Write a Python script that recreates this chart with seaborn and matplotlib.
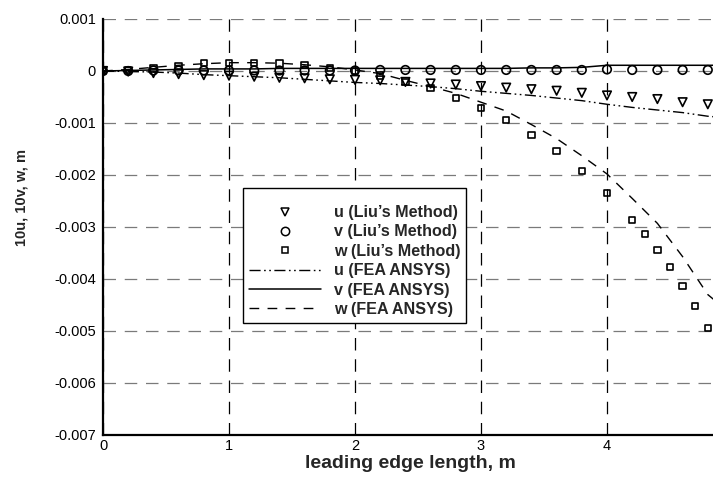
import matplotlib
matplotlib.use("Agg")
import matplotlib.pyplot as plt
from matplotlib import font_manager
from matplotlib.ticker import MultipleLocator, FuncFormatter
from matplotlib.lines import Line2D
import seaborn as sns
import pandas as pd

# ---------------- data ----------------
x_liu = [0.0, 0.2, 0.4, 0.6, 0.8, 1.0, 1.2, 1.4, 1.6, 1.8, 2.0, 2.2, 2.4,
         2.6, 2.8, 3.0, 3.2, 3.4, 3.6, 3.8, 4.0, 4.2, 4.4, 4.6, 4.8]
u_liu = [0.0, -0.00001, -0.00004, -0.00006, -0.00008, -0.00009, -0.00011,
         -0.00013, -0.00014, -0.00016, -0.00017, -0.00018, -0.00021, -0.00024,
         -0.00026, -0.00029, -0.00032, -0.00035, -0.00038, -0.00042, -0.00047,
         -0.00050, -0.00054, -0.00060, -0.00064]
v_liu = [0.0, 0.0, 0.00001, 0.00001, 0.00001, 0.00001, 0.00001, 0.00001,
         0.00001, 0.00001, 0.00001, 0.00002, 0.00002, 0.00002, 0.00002,
         0.00002, 0.00002, 0.00002, 0.00002, 0.00002, 0.00003, 0.00002,
         0.00002, 0.00002, 0.00002]
x_w_liu = [0.0, 0.2, 0.4, 0.6, 0.8, 1.0, 1.2, 1.4, 1.6, 1.8, 2.0, 2.2, 2.4,
           2.6, 2.8, 3.0, 3.2, 3.4, 3.6, 3.8, 4.0, 4.2, 4.3, 4.4, 4.5, 4.6,
           4.7, 4.8]
w_liu = [0.0, 0.00002, 0.00005, 0.00010, 0.00015, 0.00015, 0.00015, 0.00014,
         0.00012, 0.00006, 0.0, -0.00009, -0.00021, -0.00033, -0.00052,
         -0.00071, -0.00094, -0.00123, -0.00154, -0.00192, -0.00235, -0.00287,
         -0.00313, -0.00344, -0.00377, -0.00413, -0.00452, -0.00494]

x_fea = [0.0, 0.2, 0.4, 0.6, 0.8, 1.0, 1.2, 1.4, 1.6, 1.8, 2.0, 2.2, 2.4,
         2.6, 2.8, 3.0, 3.2, 3.4, 3.6, 3.8, 4.0, 4.2, 4.4, 4.6, 4.8, 4.85]
u_fea = [0.0, -0.00001, -0.00002, -0.00004, -0.00007, -0.00009, -0.00011,
         -0.00013, -0.00016, -0.00019, -0.00022, -0.00024, -0.00027, -0.00030,
         -0.00034, -0.00039, -0.00043, -0.00047, -0.00052, -0.00057, -0.00064,
         -0.00070, -0.00075, -0.00080, -0.00087, -0.00088]
v_fea = [0.0, 0.00001, 0.00002, 0.00003, 0.00004, 0.00004, 0.00004, 0.00005,
         0.00005, 0.00005, 0.00005, 0.00005, 0.00005, 0.00005, 0.00005,
         0.00005, 0.00005, 0.00006, 0.00006, 0.00007, 0.00011, 0.00011,
         0.00011, 0.00011, 0.00011, 0.00011]
w_fea = [0.0, 0.00003, 0.00007, 0.00011, 0.00014, 0.00016, 0.00016, 0.00015,
         0.00012, 0.00008, 0.00002, -0.00005, -0.00018, -0.00030, -0.00043,
         -0.00060, -0.00077, -0.00103, -0.00130, -0.00163, -0.00198, -0.00245,
         -0.00293, -0.00357, -0.00430, -0.00440]

labels = ["u (Liu\u2019s Method)", "v (Liu\u2019s Method)", "w (Liu\u2019s Method)",
          "u (FEA ANSYS)", "v (FEA ANSYS)", "w (FEA ANSYS)"]
x_ticklabels = ["0", "1", "2", "3", "4"]

# ---------------- style ----------------
sns.set_style("white")
avail = {f.name for f in font_manager.fontManager.ttflist}
base = "Liberation Sans" if "Liberation Sans" in avail else "DejaVu Sans"
plt.rcParams["font.family"] = [base, "DejaVu Sans"]
plt.rcParams["axes.unicode_minus"] = False

fig = plt.figure(figsize=(7.13, 4.80), dpi=100)
ax = fig.add_axes([103 / 713, 1 - 435 / 480, 1 - 103 / 713, (435 - 19) / 480])

df_u = pd.DataFrame({"x": x_liu, "y": u_liu})
df_v = pd.DataFrame({"x": x_liu, "y": v_liu})
df_w = pd.DataFrame({"x": x_w_liu, "y": w_liu})
df_fea = pd.DataFrame({"x": x_fea, "u": u_fea, "v": v_fea, "w": w_fea})

mk = dict(facecolor="none", edgecolor="black", linewidth=1.2, zorder=4)
sns.scatterplot(data=df_u, x="x", y="y", marker="v", s=38, ax=ax, **mk)
sns.scatterplot(data=df_v, x="x", y="y", marker="o", s=38, ax=ax, **mk)
sns.scatterplot(data=df_w, x="x", y="y", marker="s", s=22, ax=ax, **mk)

sns.lineplot(data=df_fea, x="x", y="u", ax=ax, color="black", lw=1.0,
             sort=False, estimator=None, zorder=3)
ax.lines[-1].set_dashes([8, 2.5, 1.2, 2.5, 1.2, 2.5])
sns.lineplot(data=df_fea, x="x", y="v", ax=ax, color="black", lw=1.1,
             sort=False, estimator=None, zorder=3)
sns.lineplot(data=df_fea, x="x", y="w", ax=ax, color="black", lw=1.0,
             sort=False, estimator=None, zorder=3)
ax.lines[-1].set_dashes([7, 6])

ax.set_xlim(0, (713 - 103) / 126.0)
ax.set_ylim(-0.007, 0.001)

# ticks
ax.xaxis.set_major_locator(MultipleLocator(1))
ax.xaxis.set_minor_locator(MultipleLocator(0.2))
ax.yaxis.set_major_locator(MultipleLocator(0.001))
ax.yaxis.set_minor_locator(MultipleLocator(0.0002))
ax.xaxis.set_major_formatter(FuncFormatter(
    lambda v, p: x_ticklabels[int(round(v))] if 0 <= round(v) < len(x_ticklabels) else ""))
ax.yaxis.set_major_formatter(FuncFormatter(
    lambda v, p: "0" if abs(v) < 1e-12 else f"{v:.3f}"))
ax.tick_params(which="major", direction="in", length=7.5, width=1.4,
               labelsize=10.5, color="black", labelcolor="black")
ax.tick_params(which="minor", direction="in", length=4.5, width=1.0, color="black")
ax.tick_params(axis="y", which="major", pad=5)
ax.tick_params(axis="x", which="major", pad=3)
ax.tick_params(top=False, right=False, which="both")

for s in ["top", "right"]:
    ax.spines[s].set_visible(False)
for s in ["left", "bottom"]:
    ax.spines[s].set_linewidth(1.6)
    ax.spines[s].set_color("black")
    ax.spines[s].set_zorder(5)

# grid
ax.set_axisbelow(True)
ax.yaxis.grid(True, which="major", color="#7a7a7a", lw=0.9, ls=(0, (10, 7)))
ax.xaxis.grid(True, which="major", color="black", lw=0.9, ls=(0, (10, 7)))

# labels
ax.set_xlabel("leading edge length, m", fontsize=14, fontweight="bold")
ax.xaxis.set_label_coords((410 - 103) / 610, -(464 - 435) / 416)
ax.xaxis.label.set_va("center")
ax.set_ylabel("10u, 10v, w, m", fontsize=10.5, fontweight="bold")
ax.yaxis.set_label_coords((21.5 - 103) / 610, (435 - 198) / 416)
ax.yaxis.label.set_va("center")

# legend
handles = [
    Line2D([], [], ls="none", marker="v", ms=6, mfc="none", mec="black", mew=1.1),
    Line2D([], [], ls="none", marker="o", ms=6, mfc="none", mec="black", mew=1.1),
    Line2D([], [], ls="none", marker="s", ms=4.5, mfc="none", mec="black", mew=1.1),
    Line2D([], [], color="black", lw=1.0, dashes=[8, 2.5, 1.2, 2.5, 1.2, 2.5]),
    Line2D([], [], color="black", lw=1.1),
    Line2D([], [], color="black", lw=1.0, dashes=[7, 6]),
]
leg = ax.legend(handles, labels, loc="upper left",
                bbox_to_anchor=((243 - 103) / 610, (435 - 188) / 416),
                borderaxespad=0, frameon=True, fancybox=False, shadow=False,
                framealpha=1, edgecolor="black", facecolor="white",
                prop={"weight": "bold", "size": 11.6},
                title=" ", title_fontsize=5.0,
                handlelength=4.47, handletextpad=0.8, labelspacing=0.27,
                borderpad=0.36)
leg.get_frame().set_linewidth(1.0)
leg.set_zorder(6)

fig.savefig("out.png", dpi=100)
